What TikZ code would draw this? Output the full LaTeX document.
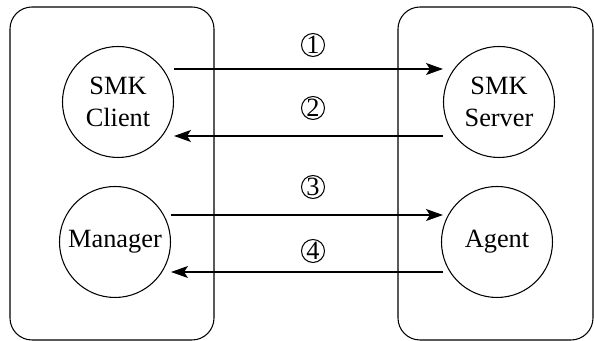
\documentclass[tikz,border=0pt]{standalone}
\usepackage{fontspec}
\setmainfont{Liberation Serif}
\usetikzlibrary{arrows.meta, positioning}

\begin{document}
\begin{tikzpicture}[
    line width=0.6pt,
    entity/.style={draw, circle, minimum size=2.22cm, inner sep=0pt, align=center,
      font=\fontsize{15}{18}\selectfont},
    stepnum/.style={draw, circle, minimum size=0.46cm, inner sep=0pt,
      font=\fontsize{15}{16}\selectfont},
    msg/.style={-{Stealth[length=0.34cm, width=0.24cm, inset=0.08cm]}}
  ]
  \useasboundingbox (0,0) rectangle (11.88,6.82);
  % hosts
  \draw[rounded corners=0.44cm] (0.2,0.02) rectangle (4.28,6.68);
  \draw[rounded corners=0.44cm] (7.96,0.02) rectangle (11.86,6.68);
  % left side
  \node[entity] (client) at (2.36,4.78) {SMK\\Client};
  \node[entity] (manager) at (2.30,1.98) {Manager};
  % right side
  \node[entity] (server) at (9.98,4.78) {SMK\\Server};
  \node[entity] (agent) at (9.94,1.98) {Agent};
  % messages
  \draw[msg] ([yshift=0.66cm]client.east) -- ([yshift=0.66cm]server.west);
  \draw[msg] ([yshift=-0.68cm]server.west) -- ([yshift=-0.68cm]client.east);
  \draw[msg] ([yshift=0.54cm]manager.east) -- ([yshift=0.54cm]agent.west -| server.west);
  \draw[msg] ([yshift=-0.6cm]agent.west -| server.west) -- ([yshift=-0.6cm]manager.east);
  \node[stepnum] (s1) at (6.26,5.92) {1};
  \node[stepnum] (s2) at (6.26,4.66) {2};
  \node[stepnum] (s3) at (6.26,3.08) {3};
  \node[stepnum] (s4) at (6.26,1.80) {4};
\end{tikzpicture}
\end{document}
